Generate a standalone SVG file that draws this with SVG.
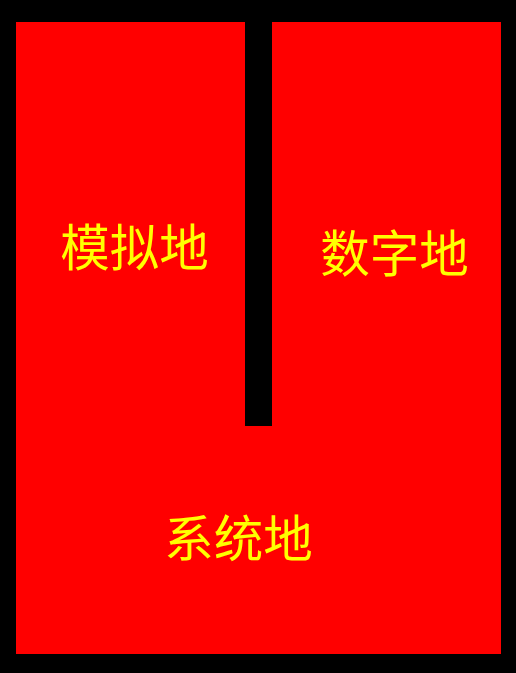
<svg xmlns="http://www.w3.org/2000/svg" width="516" height="673" viewBox="0 0 516 673">
<style>
.lbl{font-family:"Noto Sans CJK SC","Noto Sans",sans-serif;font-size:49.5px;font-weight:400;fill:#FFFF00;text-anchor:middle}
</style>
<rect x="0" y="0" width="516" height="673" fill="#000"/>
<g id="board">
<rect x="16" y="22" width="485" height="632" fill="#FF0000"/>
<rect x="245" y="0" width="27" height="426" fill="#000"/>
</g>
<g id="analog"><text class="lbl" x="134.5" y="266">模拟地</text></g>
<g id="digital"><text class="lbl" x="394.5" y="272">数字地</text></g>
<g id="system"><text class="lbl" x="238.5" y="557">系统地</text></g>
<g id="connectors"></g>
</svg>
